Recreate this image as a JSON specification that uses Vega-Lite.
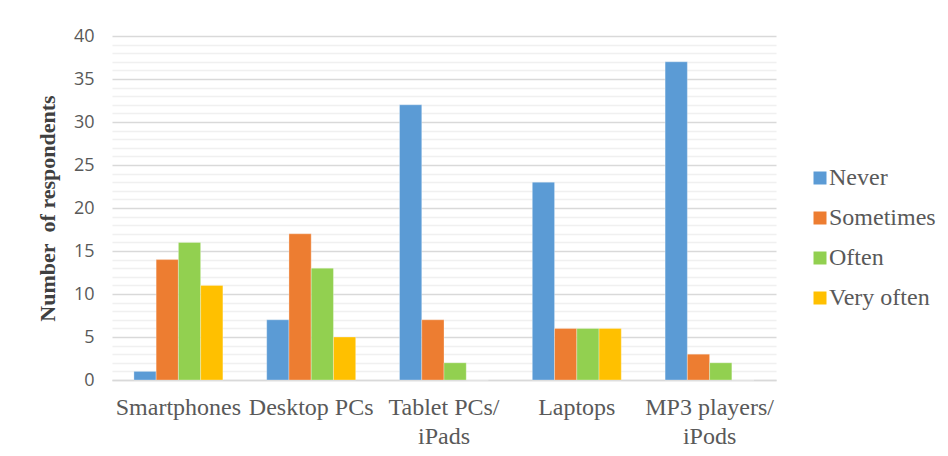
{
  "$schema": "https://vega.github.io/schema/vega-lite/v6.json",
  "autosize": {"type": "none"},
  "width": 664,
  "height": 344,
  "padding": {"left": 112, "top": 36, "right": 172, "bottom": 76},
  "background": "white",
  "data": {
    "values": [
      {"device": "Smartphones", "frequency": "Never", "count": 1},
      {"device": "Smartphones", "frequency": "Sometimes", "count": 14},
      {"device": "Smartphones", "frequency": "Often", "count": 16},
      {"device": "Smartphones", "frequency": "Very often", "count": 11},
      {"device": "Desktop PCs", "frequency": "Never", "count": 7},
      {"device": "Desktop PCs", "frequency": "Sometimes", "count": 17},
      {"device": "Desktop PCs", "frequency": "Often", "count": 13},
      {"device": "Desktop PCs", "frequency": "Very often", "count": 5},
      {"device": "Tablet PCs/iPads", "frequency": "Never", "count": 32},
      {"device": "Tablet PCs/iPads", "frequency": "Sometimes", "count": 7},
      {"device": "Tablet PCs/iPads", "frequency": "Often", "count": 2},
      {"device": "Tablet PCs/iPads", "frequency": "Very often", "count": 0},
      {"device": "Laptops", "frequency": "Never", "count": 23},
      {"device": "Laptops", "frequency": "Sometimes", "count": 6},
      {"device": "Laptops", "frequency": "Often", "count": 6},
      {"device": "Laptops", "frequency": "Very often", "count": 6},
      {"device": "MP3 players/iPods", "frequency": "Never", "count": 37},
      {"device": "MP3 players/iPods", "frequency": "Sometimes", "count": 3},
      {"device": "MP3 players/iPods", "frequency": "Often", "count": 2},
      {"device": "MP3 players/iPods", "frequency": "Very often", "count": 0}
    ]
  },
  "mark": {"type": "bar", "stroke": "#ffffff", "strokeWidth": 0.6, "strokeOpacity": 0.5},
  "encoding": {
    "x": {
      "field": "device",
      "type": "nominal",
      "sort": null,
      "scale": {"paddingInner": 0.33, "paddingOuter": 0.165},
      "axis": {
        "title": null,
        "labelAngle": 0,
        "labelFont": "Liberation Serif",
        "labelFontSize": 24,
        "labelColor": "#595959",
        "labelPadding": 15,
        "labelLineHeight": 29,
        "labelBaseline": "top",
        "labelOverlap": false,
        "labelBound": false,
        "ticks": false,
        "domainColor": "#d9d9d9",
        "domainWidth": 1.5,
        "labelExpr": "indexof(datum.label, '/') > 0 ? [slice(datum.label, 0, indexof(datum.label, '/') + 1), slice(datum.label, indexof(datum.label, '/') + 1)] : datum.label"
      }
    },
    "xOffset": {
      "field": "frequency",
      "type": "nominal",
      "sort": ["Never", "Sometimes", "Often", "Very often"],
      "scale": {"paddingInner": 0, "paddingOuter": 0}
    },
    "y": {
      "field": "count",
      "type": "quantitative",
      "scale": {"domain": [0, 40], "nice": false},
      "axis": {
        "title": "Number\u00a0\u00a0of respondents",
        "titleFont": "Liberation Serif",
        "titleFontSize": 22,
        "titleFontWeight": "bold",
        "titleColor": "#404040",
        "titlePadding": 14,
        "values": [0,1,2,3,4,5,6,7,8,9,10,11,12,13,14,15,16,17,18,19,20,21,22,23,24,25,26,27,28,29,30,31,32,33,34,35,36,37,38,39,40],
        "labelExpr": "datum.value % 5 === 0 ? datum.label : ''",
        "labelFont": "Open Sans",
        "labelFontSize": 18,
        "labelColor": "#595959",
        "labelPadding": 18,
        "ticks": false,
        "domain": false,
        "grid": true,
        "gridColor": {"condition": {"test": "datum.value % 5 === 0", "value": "#d9d9d9"}, "value": "#f0f0f0"},
        "gridWidth": 1.3
      }
    },
    "color": {
      "field": "frequency",
      "type": "nominal",
      "sort": ["Never", "Sometimes", "Often", "Very often"],
      "scale": {
        "domain": ["Never", "Sometimes", "Often", "Very often"],
        "range": ["#5b9bd5", "#ed7d31", "#92d050", "#ffc000"]
      },
      "legend": {
        "title": null,
        "orient": "none",
        "legendX": 696,
        "legendY": 130,
        "symbolType": "square",
        "symbolSize": 169,
        "symbolStrokeWidth": 0,
        "labelFont": "Liberation Serif",
        "labelFontSize": 24,
        "labelColor": "#595959",
        "labelOffset": -3,
        "rowPadding": 16
      }
    }
  },
  "config": {"view": {"stroke": null}}
}
